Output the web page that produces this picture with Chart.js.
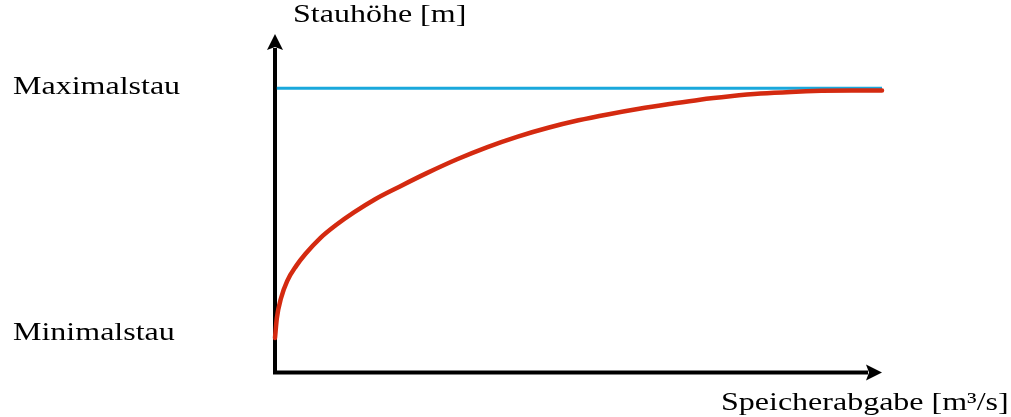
<!DOCTYPE html>
<html>
<head>
<meta charset="utf-8">
<script src="https://cdn.jsdelivr.net/npm/chart.js@4"></script>
<style>
    html, body { margin: 0; padding: 0; background: #fff; }
    #wrap { width: 1011px; height: 417px; }
</style>
</head>
<body>
<div id="wrap"><canvas id="stauChart"></canvas></div>
<script>
// Speicherabgabe (relative units) and Stauhöhe (relative units)
const abgabe = [0, 0.3, 1, 2, 3.5, 5, 7.5, 10, 13, 16.5, 20.5, 25, 30, 35, 40, 45, 50, 55, 60, 65, 70, 75, 80, 85, 90, 95, 100];
const stauhoehe = [10.2, 16, 22, 27, 31.5, 35, 39.8, 43.5, 47.3, 51.2, 54.9, 58.9, 63.0, 66.6, 69.7, 72.3, 74.5, 76.3, 77.9, 79.3, 80.6, 81.6, 82.4, 82.9, 83.2, 83.3, 83.3];
const maxStau = 84;
const minStau = 10.2;
const maxLine = [{ x: 0.3, y: maxStau }, { x: 100, y: maxStau }];

const yLabel = 'Stauhöhe [m]';
const xLabel = 'Speicherabgabe [m³/s]';
const maxLabel = 'Maximalstau';
const minLabel = 'Minimalstau';

const FONT = '25px "Liberation Serif", "Times New Roman", serif';
const STRETCH = 1.28;

function stretchedText(ctx, text, x, baseline) {
    ctx.save();
    ctx.translate(x, baseline);
    ctx.scale(STRETCH, 1);
    ctx.fillText(text, 0, 0);
    ctx.restore();
}

const axesPlugin = {
    id: 'arrowAxes',
    beforeDatasetsDraw(chart) {
        const { ctx, scales: { x, y } } = chart;
        const x0 = x.getPixelForValue(0);
        const y0 = y.getPixelForValue(0);
        const top = y.getPixelForValue(100);
        const right = x.getPixelForValue(100);
        ctx.save();
        ctx.strokeStyle = '#000';
        ctx.fillStyle = '#000';
        ctx.lineWidth = 4;
        ctx.lineCap = 'butt';
        ctx.beginPath();
        ctx.moveTo(x0, y0 + 2);
        ctx.lineTo(x0, top + 14);
        ctx.moveTo(x0 - 2, y0);
        ctx.lineTo(right - 14, y0);
        ctx.stroke();
        // arrow heads
        ctx.beginPath();
        ctx.moveTo(x0, top);
        ctx.lineTo(x0 + 8, top + 16);
        ctx.lineTo(x0, top + 13);
        ctx.lineTo(x0 - 8, top + 16);
        ctx.closePath();
        ctx.fill();
        ctx.beginPath();
        ctx.moveTo(right, y0);
        ctx.lineTo(right - 16, y0 - 8);
        ctx.lineTo(right - 13, y0);
        ctx.lineTo(right - 16, y0 + 8);
        ctx.closePath();
        ctx.fill();
        ctx.restore();
    },
    afterDraw(chart) {
        const { ctx, scales: { x, y } } = chart;
        ctx.save();
        ctx.font = FONT;
        ctx.fillStyle = '#000';
        ctx.textAlign = 'left';
        ctx.textBaseline = 'alphabetic';
        stretchedText(ctx, maxLabel, 13, y.getPixelForValue(maxStau) + 6);
        stretchedText(ctx, minLabel, 13, y.getPixelForValue(minStau) + 2);
        stretchedText(ctx, yLabel, x.getPixelForValue(0) + 18, 22);
        stretchedText(ctx, xLabel, 721, y.getPixelForValue(0) + 37);
        ctx.restore();
    }
};

new Chart(document.getElementById('stauChart'), {
    type: 'line',
    data: {
        datasets: [{
            data: abgabe.map((q, i) => ({ x: q, y: stauhoehe[i] })),
            borderColor: '#d42a10',
            borderWidth: 4.5,
            borderCapStyle: 'round',
            pointRadius: 0,
            cubicInterpolationMode: 'monotone',
            clip: false
        }, {
            data: maxLine,
            borderColor: '#1aa8dc',
            borderWidth: 3,
            pointRadius: 0,
            clip: false
        }]
    },
    options: {
        responsive: true,
        maintainAspectRatio: false,
        animation: false,
        events: [],
        layout: { padding: { left: 275, right: 129, top: 34, bottom: 44.5 } },
        plugins: { legend: { display: false }, tooltip: { enabled: false } },
        scales: {
            x: { type: 'linear', min: 0, max: 100, display: false },
            y: { type: 'linear', min: 0, max: 100, display: false }
        }
    },
    plugins: [axesPlugin]
});
</script>
</body>
</html>
